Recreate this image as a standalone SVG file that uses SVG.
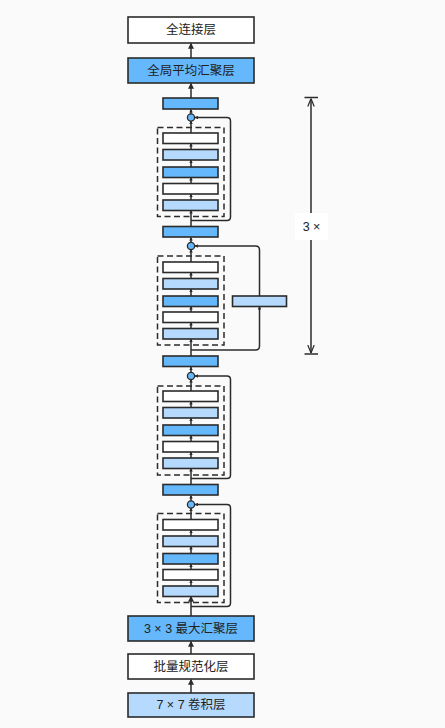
<svg xmlns="http://www.w3.org/2000/svg" width="445" height="728" viewBox="0 0 445 728">
<defs>
<style>
.bg{fill:#fafafa}
.box{stroke:#2b2b2b;stroke-width:1.6}
.w{fill:#ffffff}
.b{fill:#64b8fb}
.l{fill:#b6dafd}
.dash{fill:none;stroke:#2b2b2b;stroke-width:1.5;stroke-dasharray:6,3.5}
.ln{fill:none;stroke:#2b2b2b;stroke-width:1.5}
.lbl{font-family:"Liberation Sans","Noto Sans CJK SC",sans-serif;font-size:12.5px;fill:#222;text-anchor:middle;dominant-baseline:central}
.add{fill:#64b8fb;stroke:#2b2b2b;stroke-width:1.3}
</style>
<marker id="a" viewBox="0 0 8 8" refX="7" refY="4" markerWidth="6" markerHeight="6" markerUnits="userSpaceOnUse" orient="auto"><path d="M0,0 L8,4 L0,8 z" fill="#2b2b2b"/></marker>
<marker id="s" viewBox="0 0 8 8" refX="7" refY="4" markerWidth="3.5" markerHeight="3.5" markerUnits="userSpaceOnUse" orient="auto"><path d="M0,0 L8,4 L0,8 z" fill="#2b2b2b"/></marker>
<marker id="d" viewBox="0 0 10 10" refX="10" refY="5" markerWidth="8" markerHeight="8" markerUnits="userSpaceOnUse" orient="auto"><path d="M0,1 L10,5 L0,9" fill="none" stroke="#2b2b2b" stroke-width="1.5"/></marker>
</defs>
<rect class="bg" x="0" y="0" width="445" height="728"/>

<g id="connectors">
<line class="ln" x1="191" y1="58" x2="191" y2="43.5" marker-end="url(#a)"/>
<line class="ln" x1="191" y1="98" x2="191" y2="83.5" marker-end="url(#a)"/>
<line class="ln" x1="191" y1="114" x2="191" y2="109.5" marker-end="url(#s)"/>
<line class="ln" x1="191" y1="133" x2="191" y2="121" marker-end="url(#s)"/>
<line class="ln" x1="191" y1="149.5" x2="191" y2="143.5" marker-end="url(#s)"/>
<line class="ln" x1="191" y1="167" x2="191" y2="160" marker-end="url(#s)"/>
<line class="ln" x1="191" y1="183.5" x2="191" y2="177.5" marker-end="url(#s)"/>
<line class="ln" x1="191" y1="200" x2="191" y2="194" marker-end="url(#s)"/>
<line class="ln" x1="191" y1="226.5" x2="191" y2="210.5" marker-end="url(#s)"/>
<path class="ln" d="M191,220.5 H227 Q230.5,220.5 230.5,217 V121 Q230.5,117.5 227,117.5 H195" marker-end="url(#s)"/>
<line class="ln" x1="191" y1="242.5" x2="191" y2="237.5" marker-end="url(#s)"/>
<line class="ln" x1="191" y1="262" x2="191" y2="249.5" marker-end="url(#s)"/>
<line class="ln" x1="191" y1="278.5" x2="191" y2="272.5" marker-end="url(#s)"/>
<line class="ln" x1="191" y1="296" x2="191" y2="289" marker-end="url(#s)"/>
<line class="ln" x1="191" y1="312" x2="191" y2="306.5" marker-end="url(#s)"/>
<line class="ln" x1="191" y1="328.5" x2="191" y2="322.5" marker-end="url(#s)"/>
<line class="ln" x1="191" y1="356" x2="191" y2="339" marker-end="url(#s)"/>
<path class="ln" d="M191,350 H255.5 Q259.5,350 259.5,346 V306.5" marker-end="url(#s)"/>
<path class="ln" d="M259.5,296 V250 Q259.5,246 255.5,246 H195" marker-end="url(#s)"/>
<line class="ln" x1="191" y1="372.5" x2="191" y2="367" marker-end="url(#s)"/>
<line class="ln" x1="191" y1="391" x2="191" y2="379.5" marker-end="url(#s)"/>
<line class="ln" x1="191" y1="407.5" x2="191" y2="401.5" marker-end="url(#s)"/>
<line class="ln" x1="191" y1="425" x2="191" y2="418" marker-end="url(#s)"/>
<line class="ln" x1="191" y1="441.5" x2="191" y2="435.5" marker-end="url(#s)"/>
<line class="ln" x1="191" y1="458" x2="191" y2="452" marker-end="url(#s)"/>
<line class="ln" x1="191" y1="484.5" x2="191" y2="468.5" marker-end="url(#s)"/>
<path class="ln" d="M191,478.5 H227 Q230.5,478.5 230.5,475 V379.5 Q230.5,376 227,376 H195" marker-end="url(#s)"/>
<line class="ln" x1="191" y1="501" x2="191" y2="495.5" marker-end="url(#s)"/>
<line class="ln" x1="191" y1="519.5" x2="191" y2="508" marker-end="url(#s)"/>
<line class="ln" x1="191" y1="536" x2="191" y2="530" marker-end="url(#s)"/>
<line class="ln" x1="191" y1="553.5" x2="191" y2="546.5" marker-end="url(#s)"/>
<line class="ln" x1="191" y1="569.5" x2="191" y2="564" marker-end="url(#s)"/>
<line class="ln" x1="191" y1="586" x2="191" y2="580" marker-end="url(#s)"/>
<line class="ln" x1="191" y1="616" x2="191" y2="596.5" marker-end="url(#a)"/>
<path class="ln" d="M191,606.5 H227 Q230.5,606.5 230.5,603 V508 Q230.5,504.5 227,504.5 H195" marker-end="url(#s)"/>
<line class="ln" x1="191" y1="654" x2="191" y2="641.5" marker-end="url(#a)"/>
<line class="ln" x1="191" y1="693" x2="191" y2="679.5" marker-end="url(#a)"/>
</g>

<g id="fc"><rect class="box w" x="128" y="17" width="126" height="26"/><text class="lbl" x="191" y="30">全连接层</text></g>
<g id="gap"><rect class="box b" x="128" y="58" width="126" height="25"/><text class="lbl" x="191" y="70.5">全局平均汇聚层</text></g>
<g id="b0"><rect class="box b" x="163" y="98" width="55" height="11"/></g>

<g id="res1">
<circle class="add" cx="191" cy="117.5" r="3.6"/>
<rect class="dash" x="157.5" y="127.5" width="66.5" height="89"/>
<rect class="box w" x="163" y="133" width="55" height="10.5"/>
<rect class="box l" x="163" y="149.5" width="55" height="10.5"/>
<rect class="box b" x="163" y="167" width="55" height="10.5"/>
<rect class="box w" x="163" y="183.5" width="55" height="10.5"/>
<rect class="box l" x="163" y="200" width="55" height="10.5"/>
</g>
<g id="b1"><rect class="box b" x="163" y="226.5" width="55" height="10.5"/></g>

<g id="res2">
<circle class="add" cx="191" cy="246" r="3.6"/>
<rect class="dash" x="157.5" y="256" width="66.5" height="89"/>
<rect class="box w" x="163" y="262" width="55" height="10.5"/>
<rect class="box l" x="163" y="278.5" width="55" height="10.5"/>
<rect class="box b" x="163" y="296" width="55" height="10.5"/>
<rect class="box w" x="163" y="312" width="55" height="10.5"/>
<rect class="box l" x="163" y="328.5" width="55" height="10.5"/>
<rect class="box l" x="232.5" y="296" width="54" height="10.5"/>
</g>
<g id="b2"><rect class="box b" x="163" y="356" width="55" height="10.5"/></g>

<g id="res3">
<circle class="add" cx="191" cy="376" r="3.6"/>
<rect class="dash" x="157.5" y="386" width="66.5" height="89"/>
<rect class="box w" x="163" y="391" width="55" height="10.5"/>
<rect class="box l" x="163" y="407.5" width="55" height="10.5"/>
<rect class="box b" x="163" y="425" width="55" height="10.5"/>
<rect class="box w" x="163" y="441.5" width="55" height="10.5"/>
<rect class="box l" x="163" y="458" width="55" height="10.5"/>
</g>
<g id="b3"><rect class="box b" x="163" y="484.5" width="55" height="10.5"/></g>

<g id="res4">
<circle class="add" cx="191" cy="504.5" r="3.6"/>
<rect class="dash" x="157.5" y="513.5" width="66.5" height="89"/>
<rect class="box w" x="163" y="519.5" width="55" height="10.5"/>
<rect class="box l" x="163" y="536" width="55" height="10.5"/>
<rect class="box b" x="163" y="553.5" width="55" height="10.5"/>
<rect class="box w" x="163" y="569.5" width="55" height="10.5"/>
<rect class="box l" x="163" y="586" width="55" height="10.5"/>
</g>

<g id="pool"><rect class="box b" x="128" y="616" width="126" height="25"/><text class="lbl" x="191" y="628.5">3 × 3 最大汇聚层</text></g>
<g id="bn"><rect class="box w" x="128" y="654" width="126" height="25"/><text class="lbl" x="191" y="666.5">批量规范化层</text></g>
<g id="conv"><rect class="box l" x="128" y="693" width="126" height="24"/><text class="lbl" x="191" y="705">7 × 7 卷积层</text></g>

<g id="repeat">
<line class="ln" x1="311" y1="226" x2="311" y2="98.5" marker-end="url(#d)"/>
<line class="ln" x1="311" y1="226" x2="311" y2="353" marker-end="url(#d)"/>
<line class="ln" x1="304.5" y1="97.5" x2="318" y2="97.5"/>
<line class="ln" x1="304.5" y1="354" x2="318" y2="354"/>
<rect x="295" y="213" width="33" height="27" fill="#ffffff"/>
<text class="lbl" x="311.5" y="226.5">3 ×</text>
</g>
</svg>
